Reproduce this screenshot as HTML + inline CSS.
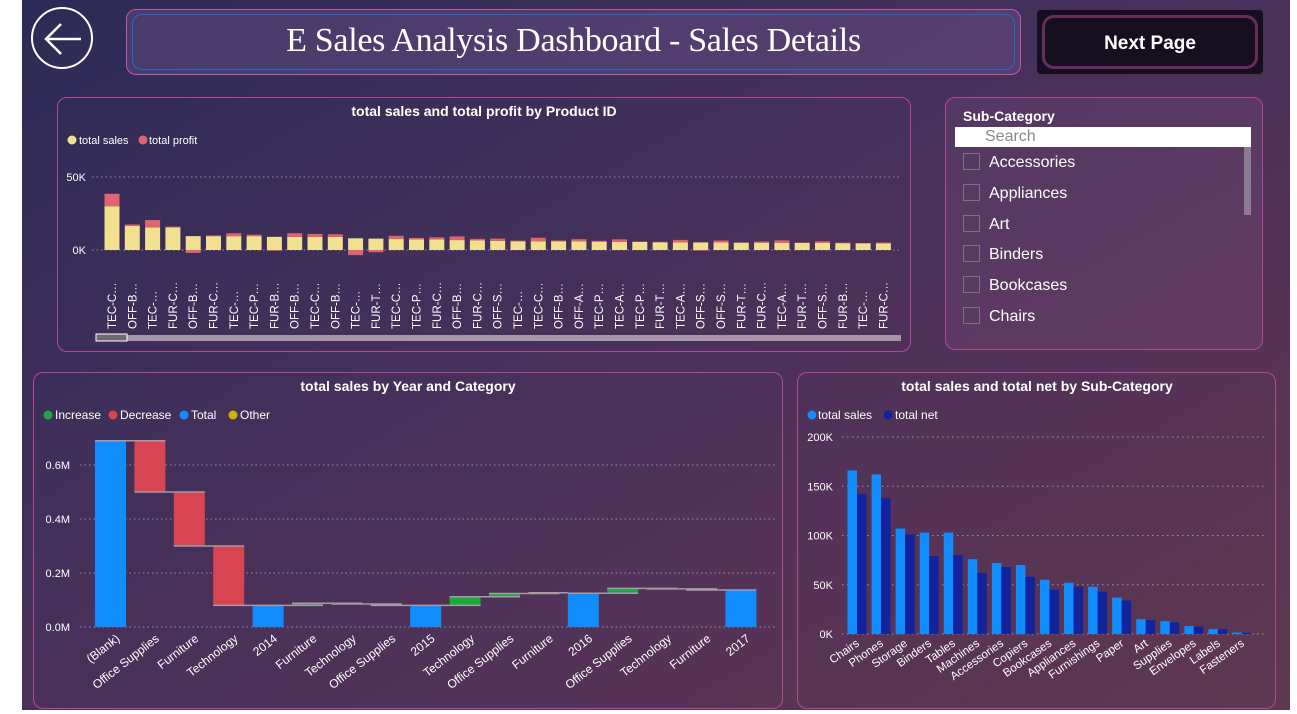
<!DOCTYPE html>
<html><head><meta charset="utf-8"><style>
html,body{margin:0;padding:0;width:1297px;height:714px;overflow:hidden;background:#fff;font-family:"Liberation Sans",sans-serif}
#bg{position:absolute;left:22px;top:0;width:1268px;height:710px;background:linear-gradient(150deg,#2c2b56 0%,#44305a 40%,#553257 70%,#5e3850 100%)}
.panel{position:absolute;border:1px solid #b04a98;border-radius:10px}
svg text{font-family:"Liberation Sans",sans-serif}
</style></head><body>
<div id="bg"></div>
<div style="position:absolute;left:31px;top:7px;width:58px;height:58px;border:2.5px solid #fff;border-radius:50%"></div>
<svg style="position:absolute;left:31px;top:7px" width="63" height="63"><path d="M50 32 H16 M30 17 L15 32 L30 47" stroke="#fff" stroke-width="2.5" fill="none"/></svg>
<div style="position:absolute;left:126px;top:9px;width:893px;height:64px;border:1px solid #c05aa8;border-radius:10px;background:rgba(120,90,150,0.35)">
 <div style="position:absolute;left:5px;top:4px;right:5px;bottom:4px;border:1px solid #1e6ad0;border-radius:10px"></div>
 <div style="position:absolute;left:0;right:0;top:12px;text-align:center;color:#fff;font-family:'Liberation Serif',serif;font-size:34px;letter-spacing:-0.3px">E Sales Analysis Dashboard - Sales Details</div>
</div>
<div style="position:absolute;left:1037px;top:10px;width:226px;height:64px;background:#160f1f;border-radius:4px">
 <div style="position:absolute;left:5px;top:5px;right:5px;bottom:5px;border:3px solid #6a2c5c;border-radius:12px;color:#fff;font-weight:bold;font-size:19px;text-align:center;line-height:52px">Next Page</div>
</div>
<div class="panel" style="left:57px;top:97px;width:852px;height:253px"></div>
<div class="panel" style="left:945px;top:97px;width:316px;height:251px;background:rgba(140,90,140,0.2)"></div>
<div class="panel" style="left:33px;top:372px;width:748px;height:335px"></div>
<div class="panel" style="left:797px;top:372px;width:477px;height:335px"></div>

<div style="position:absolute;left:945px;top:97px;width:318px;height:252px;color:#fff">
 <div style="position:absolute;left:18px;top:11px;font-weight:bold;font-size:14px">Sub-Category</div>
 <div style="position:absolute;left:10px;top:30px;width:296px;height:20px;background:#fff;color:#888;font-size:16px;line-height:20px;padding-left:30px;box-sizing:border-box">Search</div>
 <div style="position:absolute;left:299px;top:50px;width:7px;height:68px;background:#8c7a90"></div>
 <div id="items"></div>
</div>

<svg id="c" width="1297" height="714" style="position:absolute;left:0;top:0"></svg>
<script>
const NS="http://www.w3.org/2000/svg";
const svg=document.getElementById('c');
function el(t,a,p){const e=document.createElementNS(NS,t);for(const k in a)e.setAttribute(k,a[k]);(p||svg).appendChild(e);return e;}
function txt(x,y,s,a){const e=el('text',Object.assign({x:x,y:y,fill:'#fff','font-size':12},a||{}));e.textContent=s;return e;}

const slicerItems=['Accessories','Appliances','Art','Binders','Bookcases','Chairs'];
const items=document.getElementById('items');
slicerItems.forEach((s,i)=>{
 const d=document.createElement('div');
 
 
 d.style.cssText='position:absolute;left:18px;top:'+(56+i*30.8)+'px;font-size:16px;height:20px;line-height:20px';
 d.innerHTML='<span style="display:inline-block;width:15px;height:15px;border:1px solid #777;vertical-align:-3px;margin-right:9px"></span>'+s;
 items.appendChild(d);
});

// ===== Chart 1: product =====
const prodLabels=['TEC-C…','OFF-B…','TEC-…','FUR-C…','OFF-B…','FUR-C…','TEC-…','TEC-P…','FUR-B…','OFF-B…','TEC-C…','OFF-B…','TEC-…','FUR-T…','TEC-C…','TEC-P…','FUR-C…','OFF-B…','FUR-C…','OFF-S…','TEC-…','TEC-C…','OFF-B…','OFF-A…','TEC-P…','TEC-A…','TEC-P…','FUR-T…','TEC-A…','OFF-S…','OFF-S…','FUR-T…','FUR-C…','TEC-A…','FUR-T…','OFF-S…','FUR-B…','TEC-…','FUR-C…'];
const prodSales=[30,16.5,15.5,15.5,9.5,9.5,9.5,9.5,9,9,9,9,8,7.8,7.5,7.3,7.3,6.8,6.5,6.3,6,6,6,6,5.7,5.5,5.5,5.3,5.3,5.2,5.2,5,5,5,4.8,4.8,4.7,4.6,4.5];
const prodProfit=[8.5,1,5,0.5,-2,0.5,2,1,-0.5,2.5,2,1.8,-3.5,-1.5,2.2,1,1.4,2.5,1.1,1.5,0.4,2.4,0.5,1.4,0.6,1.8,0.3,0.3,1.6,-0.4,1.3,0.2,0.8,1.6,0.3,1.2,0.3,0.2,0.6];
const p1Ticks=[0,50];
(function(){
 const y0=250,k=73/50,x0=112,pitch=20.3,w=15;
 const Y=v=>y0-v*k, X=i=>x0+i*pitch;
 txt(484,116,'total sales and total profit by Product ID',{'text-anchor':'middle','font-weight':'bold','font-size':14,});
 const lg=el('g',{});
 el('circle',{cx:72,cy:140,r:4.5,fill:'#f0e08f'},lg);txt(79,144,'total sales',{'font-size':11},lg);
 el('circle',{cx:143,cy:140,r:4.5,fill:'#e0646e'},lg);txt(149,144,'total profit',{'font-size':11},lg);
 p1Ticks.forEach(t=>{
  const g=el('line',{x1:92,x2:900,y1:Y(t),y2:Y(t),stroke:'#9a8eaa','stroke-dasharray':'1.5 3'});
  
  const l=txt(86,Y(t)+4,t+'K',{'text-anchor':'end','font-size':11});
  
 });
 prodSales.forEach((s,i)=>{
  const p=prodProfit[i];
  const b=el('rect',{x:X(i)-w/2,y:Y(s),width:w,height:s*k,fill:'#f0e08f'});
  
  const py=p>=0?Y(s+p):Y(0), ph=Math.abs(p)*k;
  const r=el('rect',{x:X(i)-w/2,y:py,width:w,height:ph,fill:'#e0646e'});
  
  const t=txt(0,0,prodLabels[i],{'font-size':11.5,'text-anchor':'start',transform:'translate('+(X(i)+4)+',329) rotate(-90)'});
  
 });
 const sb=el('rect',{x:96,y:335,width:805,height:6,fill:'#a894a8'});
 
 el('rect',{x:96,y:334,width:31,height:7,fill:'#6f6678',stroke:'#fff','stroke-width':1});
})();

// ===== Chart 2: waterfall =====
const wfCats=['(Blank)','Office Supplies','Furniture','Technology','2014','Furniture','Technology','Office Supplies','2015','Technology','Office Supplies','Furniture','2016','Office Supplies','Technology','Furniture','2017'];
const wfValues=[0.69,-0.19,-0.2,-0.22,0.08,0.008,-0.003,-0.005,0.08,0.032,0.012,0.003,0.125,0.018,-0.002,-0.004,0.137];
const wfIsTotal=[1,0,0,0,1,0,0,0,1,0,0,0,1,0,0,0,1];
const wfTicks=[0,0.2,0.4,0.6];
(function(){
 const y0=627,k=270,x0=110.5,pitch=39.4,w=31;
 const Y=v=>y0-v*k, X=i=>x0+i*pitch;
 txt(408,391,'total sales by Year and Category',{'text-anchor':'middle','font-weight':'bold','font-size':14,});
 const lg=el('g',{});
 [['Increase','#1aaa3c',48],['Decrease','#d84452',113],['Total','#118dff',184],['Other','#d6b000',233]].forEach(([n,c,x])=>{
  el('circle',{cx:x,cy:415,r:4.5,fill:c},lg);txt(x+7,419,n,{'font-size':12},lg);
 });
 wfTicks.forEach(t=>{
  const g=el('line',{x1:80,x2:775,y1:Y(t),y2:Y(t),stroke:'#9a8eaa','stroke-dasharray':'1.5 3'});
  
  const l=txt(70,Y(t)+4,t.toFixed(1)+'M',{'text-anchor':'end','font-size':11});
  
 });
 let run=0;
 wfValues.forEach((v,i)=>{
  let a,b,col;
  if(wfIsTotal[i]){a=0;b=v;run=v;col='#118dff';}
  else{a=run;b=run+v;run=b;col=v>=0?'#1aaa3c':'#d84452';}
  const top=Math.max(a,b),bot=Math.min(a,b);
  const r=el('rect',{x:X(i)-w/2,y:Y(top),width:w,height:Math.max((top-bot)*k,1),fill:col});
  
  el('line',{x1:X(i)-w/2,x2:X(i)+w/2+(i<wfValues.length-1?pitch-w:0),y1:Y(run),y2:Y(run),stroke:'#a89aa8','stroke-width':1.5});
  if(!wfIsTotal[i]) el('line',{x1:X(i)-w/2,x2:X(i)+w/2,y1:Y(a),y2:Y(a),stroke:'#a89aa8','stroke-width':1.5});
  const t=txt(0,0,wfCats[i],{'font-size':12,'text-anchor':'end',transform:'translate('+(X(i)+10)+',640) rotate(-38)'});
  
 });
})();

// ===== Chart 3: sub-category =====
const subCats=['Chairs','Phones','Storage','Binders','Tables','Machines','Accessories','Copiers','Bookcases','Appliances','Furnishings','Paper','Art','Supplies','Envelopes','Labels','Fasteners'];
const subSales=[166,162,107,103,103,76,72,70,55,52,48,37,15,13,8,5,1.5];
const subNet=[142,138,101,79,80,62,68,58,45,48,43,34,14,12,7.5,5,1.2];
const subTicks=[0,50,100,150,200];
(function(){
 const y0=634,k=197/200,x0=857,pitch=24.06,w=9.5;
 const Y=v=>y0-v*k, X=i=>x0+i*pitch;
 txt(1037,391,'total sales and total net by Sub-Category',{'text-anchor':'middle','font-weight':'bold','font-size':14,});
 const lg=el('g',{});
 el('circle',{cx:812,cy:415,r:4.5,fill:'#118dff'},lg);txt(818,419,'total sales',{'font-size':12},lg);
 el('circle',{cx:888,cy:415,r:4.5,fill:'#12239e'},lg);txt(895,419,'total net',{'font-size':12},lg);
 subTicks.forEach(t=>{
  const g=el('line',{x1:842,x2:1265,y1:Y(t),y2:Y(t),stroke:'#a08ea8','stroke-dasharray':'1.5 3.5'});
  
  const l=txt(833,Y(t)+4,t+'K',{'text-anchor':'end','font-size':11});
  
 });
 subCats.forEach((c,i)=>{
  const a=el('rect',{x:X(i)-w,y:Y(subSales[i]),width:w,height:subSales[i]*k,fill:'#118dff'});
  
  const b=el('rect',{x:X(i),y:Y(subNet[i]),width:w,height:subNet[i]*k,fill:'#12239e'});
  
  const t=txt(0,0,c,{'font-size':11.5,'text-anchor':'end',transform:'translate('+(X(i)+3)+',645) rotate(-35)'});
  
 });
})();
</script>
</body></html>
